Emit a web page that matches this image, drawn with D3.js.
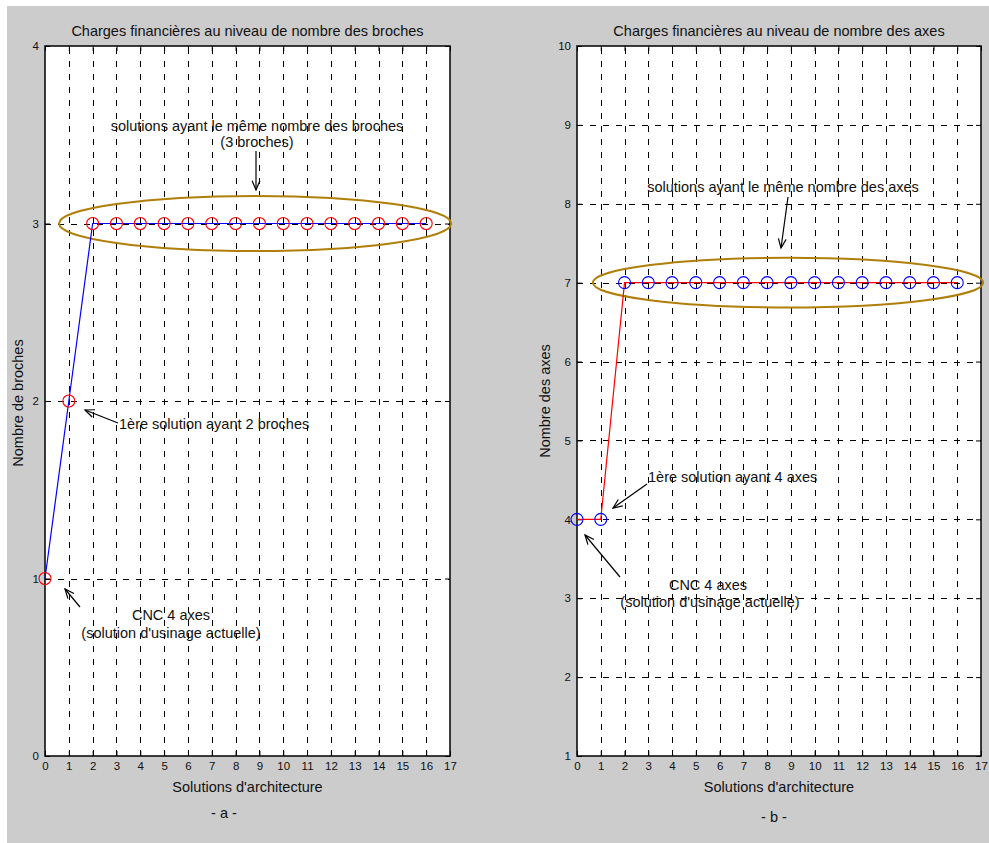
<!DOCTYPE html>
<html>
<head>
<meta charset="utf-8">
<script src="https://cdn.jsdelivr.net/npm/d3@7"></script>
<style>
  html, body { margin: 0; padding: 0; background: #fff; }
  svg { display: block; }
  text { font-family: "Liberation Sans", Arial, Helvetica, sans-serif; fill: #111; }
</style>
</head>
<body>
<svg id="chart" width="989" height="843"></svg>
<script>
// ---------- data ----------
const solutions = [0, 1, 2, 3, 4, 5, 6, 7, 8, 9, 10, 11, 12, 13, 14, 15, 16];
const broches   = [1, 2, 3, 3, 3, 3, 3, 3, 3, 3, 3, 3, 3, 3, 3, 3, 3];
const axesCount = [4, 4, 7, 7, 7, 7, 7, 7, 7, 7, 7, 7, 7, 7, 7, 7, 7];
const xTickValues = [0, 1, 2, 3, 4, 5, 6, 7, 8, 9, 10, 11, 12, 13, 14, 15, 16, 17];
const yTicksA = [0, 1, 2, 3, 4];
const yTicksB = [1, 2, 3, 4, 5, 6, 7, 8, 9, 10];

const titleA = "Charges financières au niveau de nombre des broches";
const titleB = "Charges financières au niveau de nombre des axes";
const xLabel = "Solutions d'architecture";
const yLabelA = "Nombre de broches";
const yLabelB = "Nombre des axes";

const svg = d3.select("#chart");
svg.append("rect").attr("x", 7).attr("y", 6).attr("width", 982).attr("height", 840).attr("fill", "#cccccc");

const FS = 14.5;

function panel(cfg) {
  const g = svg.append("g");
  const x = d3.scaleLinear().domain([0, 17]).range([cfg.x0, cfg.x1]);
  const y = d3.scaleLinear().domain(cfg.yDomain).range([cfg.y1, cfg.y0]);

  // plot area
  g.append("rect").attr("x", cfg.x0).attr("y", cfg.y0)
    .attr("width", cfg.x1 - cfg.x0).attr("height", cfg.y1 - cfg.y0).attr("fill", "#fff");

  // grid
  const grid = g.append("g").attr("stroke", "#000").attr("stroke-width", 1)
    .attr("stroke-dasharray", "6,7").attr("fill", "none");
  xTickValues.filter(v => v > 0 && v < 17).forEach(v => {
    grid.append("line").attr("x1", Math.round(x(v)) + 0.5).attr("x2", Math.round(x(v)) + 0.5)
      .attr("y1", cfg.y1).attr("y2", cfg.y0);
  });
  cfg.yTicks.filter(v => v > cfg.yDomain[0] && v < cfg.yDomain[1]).forEach(v => {
    grid.append("line").attr("y1", Math.round(y(v)) + 0.5).attr("y2", Math.round(y(v)) + 0.5)
      .attr("x1", cfg.x0).attr("x2", cfg.x1);
  });

  // axes (ticks inward, all four sides)
  const fmt = d3.format("d");
  const bottom = d3.axisBottom(x).tickValues(xTickValues).tickFormat(fmt).tickSizeInner(-5).tickSizeOuter(0).tickPadding(6);
  const top = d3.axisTop(x).tickValues(xTickValues).tickSizeInner(-5).tickSizeOuter(0).tickFormat("");
  const left = d3.axisLeft(y).tickValues(cfg.yTicks).tickFormat(fmt).tickSizeInner(-5).tickSizeOuter(0).tickPadding(6);
  const right = d3.axisRight(y).tickValues(cfg.yTicks).tickSizeInner(-5).tickSizeOuter(0).tickFormat("");
  [[bottom, `translate(0,${cfg.y1})`], [top, `translate(0,${cfg.y0})`],
   [left, `translate(${cfg.x0},0)`], [right, `translate(${cfg.x1},0)`]].forEach(([ax, tr]) => {
    const a = g.append("g").attr("transform", tr).call(ax);
    a.select(".domain").remove();
    a.selectAll("line").attr("stroke", "#000");
    a.selectAll("text").attr("font-size", 11.5).attr("fill", "#111")
      .style("font-family", "'Liberation Sans', Arial, sans-serif");
  });
  g.append("rect").attr("x", cfg.x0).attr("y", cfg.y0)
    .attr("width", cfg.x1 - cfg.x0).attr("height", cfg.y1 - cfg.y0)
    .attr("fill", "none").attr("stroke", "#000").attr("stroke-width", 1.5);

  // titles and labels
  g.append("text").attr("x", (cfg.x0 + cfg.x1) / 2).attr("y", 36).attr("text-anchor", "middle")
    .attr("font-size", FS).text(cfg.title);
  g.append("text").attr("x", (cfg.x0 + cfg.x1) / 2).attr("y", 792).attr("text-anchor", "middle")
    .attr("font-size", FS).text(xLabel);
  g.append("text").attr("transform", `translate(${cfg.yLabelX},${cfg.yLabelY}) rotate(-90)`)
    .attr("text-anchor", "middle").attr("font-size", FS).text(cfg.yLabel);
  g.append("text").attr("x", cfg.subX).attr("y", cfg.subY).attr("text-anchor", "middle")
    .attr("font-size", FS).text(cfg.sub);

  // ellipse
  const e = cfg.ellipse;
  g.append("ellipse").attr("cx", x(e.cx)).attr("cy", y(e.cy))
    .attr("rx", x(e.cx + e.rx) - x(e.cx)).attr("ry", y(e.cy) - y(e.cy + e.ry))
    .attr("fill", "none").attr("stroke", "#b07f0a").attr("stroke-width", 2);

  // line + markers
  const pts = solutions.map((s, i) => [s, cfg.values[i]]);
  g.append("path").datum(pts)
    .attr("d", d3.line().x(d => x(d[0])).y(d => y(d[1])))
    .attr("fill", "none").attr("stroke", cfg.lineColor).attr("stroke-width", 1.2);
  g.selectAll("circle.m").data(pts).enter().append("circle")
    .attr("cx", d => x(d[0])).attr("cy", d => y(d[1])).attr("r", 6)
    .attr("fill", "none").attr("stroke", cfg.markerColor).attr("stroke-width", 1.1);

  // annotations
  cfg.texts.forEach(t => {
    g.append("text").attr("x", t[0]).attr("y", t[1]).attr("text-anchor", t[3] || "middle")
      .attr("font-size", FS).attr("fill", "#222").text(t[2]);
  });
  cfg.arrows.forEach(a => {
    const [x1, y1, x2, y2] = a;
    const ang = Math.atan2(y2 - y1, x2 - x1);
    const L = 10, W = 0.4;
    const ag = g.append("g").attr("stroke", "#000").attr("stroke-width", 1.2).attr("fill", "none");
    ag.append("line").attr("x1", x1).attr("y1", y1).attr("x2", x2).attr("y2", y2);
    ag.append("path").attr("d",
      `M${x2 - L * Math.cos(ang - W)},${y2 - L * Math.sin(ang - W)} L${x2},${y2} L${x2 - L * Math.cos(ang + W)},${y2 - L * Math.sin(ang + W)}`);
  });
}

panel({
  x0: 45, x1: 450, y0: 46, y1: 756, yDomain: [0, 4], yTicks: yTicksA,
  title: titleA, yLabel: yLabelA, yLabelX: 23, yLabelY: 403,
  sub: "- a -", subX: 224, subY: 818,
  values: broches, lineColor: "#0000ff", markerColor: "#ff0000",
  ellipse: { cx: 8.82, cy: 3.0, rx: 8.23, ry: 0.155 },
  texts: [
    [257, 131, "solutions ayant le même nombre des broches"],
    [257, 147, "(3 broches)"],
    [119, 429, "1ère solution ayant 2 broches", "start"],
    [171, 620, "CNC 4 axes"],
    [171, 638, "(solution d'usinage actuelle)"]
  ],
  arrows: [
    [256, 151, 256, 190],
    [118, 423, 85, 410],
    [80, 607, 65, 589]
  ]
});

panel({
  x0: 577, x1: 981, y0: 46, y1: 756, yDomain: [1, 10], yTicks: yTicksB,
  title: titleB, yLabel: yLabelB, yLabelX: 550, yLabelY: 401,
  sub: "- b -", subX: 774, subY: 822,
  values: axesCount, lineColor: "#ff0000", markerColor: "#0000ff",
  ellipse: { cx: 8.88, cy: 7.0, rx: 8.21, ry: 0.315 },
  texts: [
    [783, 192, "solutions ayant le même nombre des axes"],
    [648, 482, "1ère solution ayant 4 axes", "start"],
    [708, 590, "CNC 4 axes"],
    [710, 607, "(solution d'usinage actuelle)"]
  ],
  arrows: [
    [788, 197, 781, 248],
    [647, 484, 613, 508],
    [620, 577, 585, 535]
  ]
});
</script>
</body>
</html>
